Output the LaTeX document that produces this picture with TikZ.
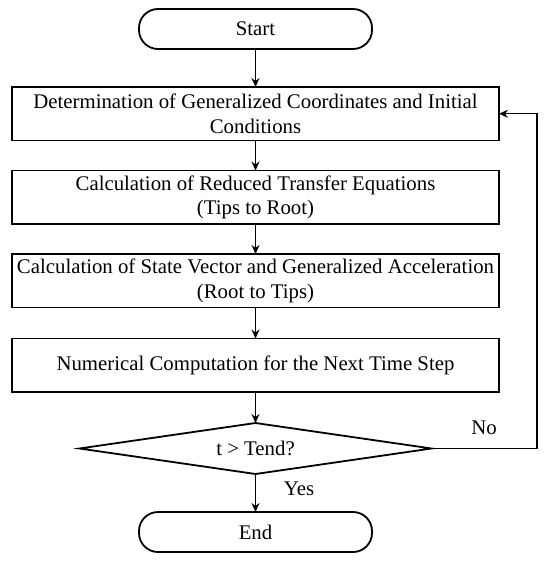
\documentclass[tikz,border=0pt]{standalone}
\usepackage{fontspec}
\setmainfont{Liberation Serif}
\usetikzlibrary{arrows.meta,positioning,shapes.geometric}

\begin{document}
\begin{tikzpicture}[
  x=1pt, y=1pt,
  term/.style={draw, rounded corners=19pt, minimum width=233pt, minimum height=40pt,
               outer sep=0pt, line width=1.8pt, font=\fontsize{20.8}{24.5}\selectfont},
  box/.style={draw, minimum width=487pt, minimum height=53.5pt, align=center, inner sep=2pt,
              outer sep=0pt, line width=1.8pt, font=\fontsize{20.8}{24.5}\selectfont},
  cond/.style={draw, diamond, aspect=6.9, minimum width=352pt, minimum height=51pt,
               inner sep=0pt, outer sep=0pt, line width=1.8pt, font=\fontsize{20.8}{24.5}\selectfont},
  lbl/.style={font=\fontsize{20.8}{24.5}\selectfont},
  arr/.style={-{Stealth[length=9pt,width=8pt,inset=3pt]}, line width=1.2pt}
]
  \useasboundingbox (0,0) rectangle (550,-561);

  \node[term] (start) at (255.5,-29) {Start};
  \node[box, below=38pt of start] (det)
    {Determination of Generalized Coordinates and Initial\\Conditions};
  \node[box, below=30pt of det] (red)
    {Calculation of Reduced Transfer Equations\\(Tips to Root)};
  \node[box, below=30pt of red] (sta)
    {Calculation of State Vector and Generalized Acceleration\\(Root to Tips)};
  \node[box, below=31pt of sta] (num) {Numerical Computation for the Next Time Step};
  \node[cond, below=31pt of num] (dec) {t > Tend?};
  \node[term, below=38pt of dec] (end) {End};

  \coordinate (loop) at (537,0);

  \draw[arr] (start) -- (det);
  \draw[arr] (det) -- (red);
  \draw[arr] (red) -- (sta);
  \draw[arr] (sta) -- (num);
  \draw[arr] (num) -- (dec);
  \draw[arr] (dec) -- (end);
  \draw[arr] (dec.east) -| (loop |- det.east) -- (det.east);

  \node[lbl] (no)  at (484,-428) {No};
  \node[lbl] (yes) at (299,-489) {Yes};
\end{tikzpicture}
\end{document}
